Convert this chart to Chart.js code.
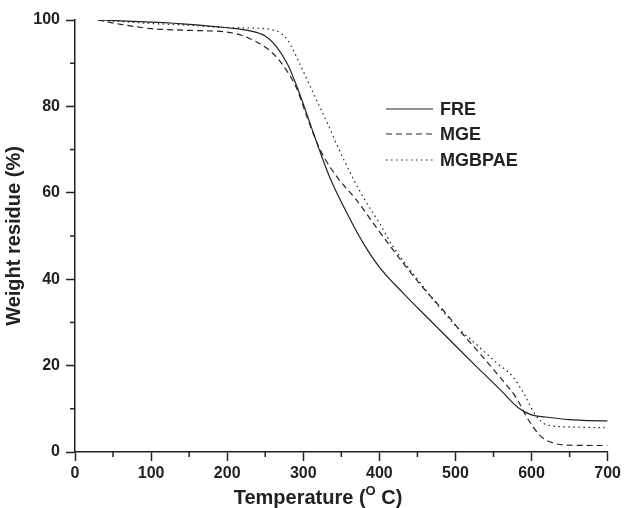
<!DOCTYPE html>
<html>
<head>
<meta charset="utf-8">
<script src="https://cdn.jsdelivr.net/npm/chart.js@4/dist/chart.umd.min.js"></script>
<style>
  html, body { margin: 0; padding: 0; background: #fff; }
  #wrap { width: 624px; height: 508px; }
</style>
</head>
<body>
<div id="wrap"><canvas id="grafico" width="624" height="508"></canvas></div>
<script>
// Dados (temperatura °C, resíduo %)
const nomesSeries = ['FRE', 'MGE', 'MGBPAE'];

const fre = [[30,100],[100,99.5],[150,99],[200,98.2],[230,97.5],[250,96.3],[265,93.8],[280,89.5],
  [295,83],[310,75.5],[321,70],[335,63.5],[360,54.4],[380,48],[400,42.8],[430,37],[474,29.2],
  [500,24.6],[531,19.2],[560,14.2],[583,10.2],[600,8.6],[618,8.1],[650,7.5],[697,7.2],[700,7.2]];

const mge = [[30,100],[60,99],[100,98],[150,97.6],[200,97.2],[220,96.4],[246,94.2],[260,92.3],
  [273,89.6],[291,84.3],[305,77.5],[318,71.6],[328,68],[345,63.5],[370,58.3],[396,52],
  [430,44],[460,37.5],[488,32],[510,27.2],[531,23],[560,17],[580,12.5],[596,7.4],[613,3.5],
  [630,2],[645,1.6],[700,1.5]];

const mgbpae = [[30,100],[100,99.2],[150,98.8],[203,98.2],[240,98.1],[260,97.7],[270,97],
  [280,95.2],[295,90],[312,83.5],[332,76],[347,70],[365,63.5],[382,58],[400,53],[417,47.8],
  [450,40],[496,30],[530,24.5],[555,20.5],[575,17.5],[590,13.5],[605,8.6],[620,6.3],[650,5.8],
  [700,5.6]];

const ticksX = [0, 100, 200, 300, 400, 500, 600, 700];
const ticksY = [0, 20, 40, 60, 80, 100];

const COR = '#222';
const FONTE = '"Liberation Sans", Arial, sans-serif';

function paraPontos(serie) {
    return serie.map(p => ({ x: p[0], y: p[1] }));
}

// Ticks menores, título do eixo X (com "o" sobrescrito) e legenda
const pluginExtras = {
    id: 'extras',
    afterDraw(chart) {
        const ctx = chart.ctx;
        const sx = chart.scales.x;
        const sy = chart.scales.y;
        const area = chart.chartArea;
        ctx.save();
        ctx.strokeStyle = COR;
        ctx.lineWidth = 1.5;
        ctx.beginPath();
        for (let v = 50; v < 700; v += 100) {
            const px = sx.getPixelForValue(v);
            ctx.moveTo(px, area.bottom);
            ctx.lineTo(px, area.bottom + 5);
        }
        for (let v = 10; v < 100; v += 20) {
            const py = sy.getPixelForValue(v);
            ctx.moveTo(area.left, py);
            ctx.lineTo(area.left - 5, py);
        }
        ctx.stroke();

        // título do eixo X
        const fGrande = 'bold 20px ' + FONTE;
        const fPequena = 'bold 13px ' + FONTE;
        const partes = [
            { t: 'Temperature (', f: fGrande, dy: 0 },
            { t: 'O', f: fPequena, dy: -9 },
            { t: ' C)', f: fGrande, dy: 0 }
        ];
        let largura = 0;
        partes.forEach(p => { ctx.font = p.f; largura += ctx.measureText(p.t).width; });
        let x = 318 - largura / 2;
        ctx.fillStyle = COR;
        ctx.textBaseline = 'alphabetic';
        partes.forEach(p => {
            ctx.font = p.f;
            ctx.fillText(p.t, x, 504 + p.dy);
            x += ctx.measureText(p.t).width;
        });

        // legenda
        const linhasY = [109, 134, 160];
        chart.data.datasets.forEach((ds, i) => {
            const y = linhasY[i];
            ctx.beginPath();
            ctx.strokeStyle = ds.borderColor;
            ctx.lineWidth = ds.borderWidth;
            ctx.setLineDash(ds.borderDash || []);
            ctx.moveTo(386, y);
            ctx.lineTo(433, y);
            ctx.stroke();
            ctx.setLineDash([]);
            ctx.fillStyle = COR;
            ctx.font = 'bold 18px ' + FONTE;
            ctx.textBaseline = 'middle';
            ctx.fillText(ds.label, 440, y + 1);
        });
        ctx.restore();
    }
};

const config = {
    type: 'scatter',
    data: {
        datasets: [
            { label: nomesSeries[0], data: paraPontos(fre), borderDash: [] },
            { label: nomesSeries[1], data: paraPontos(mge), borderDash: [6, 4] },
            { label: nomesSeries[2], data: paraPontos(mgbpae), borderDash: [1.5, 3.5] }
        ].map(ds => ({
            ...ds,
            showLine: true,
            borderColor: COR,
            borderWidth: 1.2,
            pointRadius: 0,
            cubicInterpolationMode: 'monotone',
            fill: false
        }))
    },
    options: {
        responsive: false,
        animation: false,
        layout: { padding: { top: 20, right: 15, left: 0, bottom: 0 } },
        plugins: { legend: { display: false }, tooltip: { enabled: false } },
        scales: {
            x: {
                type: 'linear',
                min: 0,
                max: 700,
                afterFit: s => { s.height = 56; },
                afterBuildTicks: s => { s.ticks = ticksX.map(v => ({ value: v })); },
                border: { color: COR, width: 1.5 },
                grid: { drawOnChartArea: false, tickLength: 9, tickColor: COR, tickWidth: 1.5 },
                ticks: { color: COR, font: { family: FONTE, size: 16, weight: 'bold' }, padding: 3, maxRotation: 0 },
                title: { display: false }
            },
            y: {
                type: 'linear',
                min: 0,
                max: 100,
                afterFit: s => { s.width = 75; },
                afterBuildTicks: s => { s.ticks = ticksY.map(v => ({ value: v })); },
                border: { color: COR, width: 1.5 },
                grid: { drawOnChartArea: false, tickLength: 9, tickColor: COR, tickWidth: 1.5 },
                ticks: { color: COR, font: { family: FONTE, size: 16, weight: 'bold' }, padding: 6 },
                title: {
                    display: true,
                    text: 'Weight residue (%)',
                    color: COR,
                    font: { family: FONTE, size: 20, weight: 'bold' },
                    padding: { top: 2, bottom: 0 }
                }
            }
        }
    },
    plugins: [pluginExtras]
};

new Chart(document.getElementById('grafico').getContext('2d'), config);
</script>
</body>
</html>
